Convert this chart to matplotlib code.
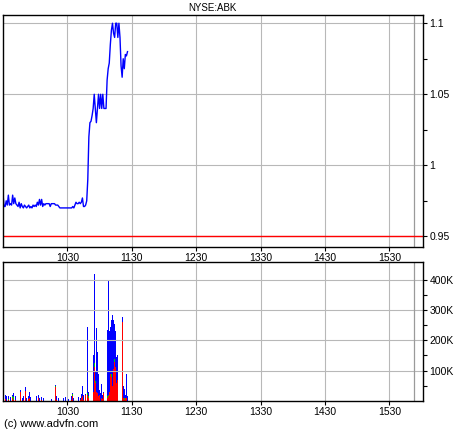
import numpy as np
import matplotlib
matplotlib.use("Agg")
import matplotlib.pyplot as plt
from matplotlib.ticker import FuncFormatter

plt.rcParams["font.family"] = ["Liberation Sans", "DejaVu Sans"]

# minutes after 09:30
price_min = list(range(0, 117))
price = [
    0.980, 0.971, 0.971, 0.975, 0.972, 0.979, 0.972, 0.973, 0.972, 0.979,
    0.973, 0.977, 0.973, 0.972, 0.971, 0.974, 0.970, 0.973, 0.971, 0.970,
    0.972, 0.971, 0.970, 0.971, 0.972, 0.970, 0.971, 0.970, 0.972, 0.971,
    0.972, 0.971, 0.974, 0.972, 0.976, 0.972, 0.976, 0.971, 0.973, 0.972,
    0.973, 0.973, 0.973, 0.973, 0.971, 0.973, 0.973, 0.973, 0.973, 0.972,
    0.972, 0.972, 0.971, 0.970, 0.970, 0.970, 0.970, 0.970, 0.970, 0.970,
    0.970, 0.970, 0.970, 0.970, 0.970, 0.971, 0.970, 0.972, 0.974, 0.973,
    0.973, 0.974, 0.973, 0.974, 0.977, 0.971, 0.971, 0.972, 0.975, 0.990,
    1.020, 1.030, 1.031, 1.035, 1.040, 1.050, 1.040, 1.030, 1.040, 1.050,
    1.040, 1.050, 1.040, 1.050, 1.040, 1.040, 1.040, 1.060, 1.068, 1.072,
    1.085, 1.095, 1.100, 1.093, 1.090, 1.100, 1.100, 1.090, 1.100, 1.090,
    1.070, 1.062, 1.075, 1.068, 1.078, 1.077, 1.080,
]
prev_close = 0.95

vol_min = [0, 1, 2, 3, 5, 7, 9, 10, 12, 14, 15, 16, 18, 19, 21, 22, 24, 25, 26,
           28, 31, 33, 34, 36, 38, 40, 42, 45, 49, 50, 52, 56, 58, 61, 64, 65,
           66, 68, 70, 72, 73, 74, 75, 77, 79, 80, 81, 82, 83, 84, 85, 86, 87,
           88, 89, 90, 91, 92, 93, 94, 95, 96, 97, 98, 99, 100, 101, 102, 103,
           104, 105, 106, 107, 108, 109, 110, 111, 112, 113, 114, 115, 116]
vol_total = [236, 40, 20, 15, 18, 12, 20, 25, 15, 40, 12, 35, 10, 15, 46, 10, 15,
             29, 12, 8, 15, 20, 10, 12, 10, 8, 10, 8, 54, 15, 10, 10, 13, 8, 15,
             28, 10, 8, 12, 10, 24, 51, 20, 22, 244, 30, 345, 240, 177, 150, 418,
             100, 241, 161, 90, 35, 25, 57, 20, 30, 25, 20, 233, 398, 232, 245,
             266, 283, 268, 255, 232, 145, 150, 60, 40, 30, 277, 50, 40, 20, 90, 15]
vol_red = [35, 10, 8, 0, 5, 0, 10, 5, 5, 0, 0, 30, 0, 5, 32, 0, 8, 10, 0, 0, 0,
           10, 0, 5, 0, 0, 0, 0, 45, 5, 0, 0, 0, 0, 5, 15, 0, 0, 0, 5, 10, 15, 5,
           20, 20, 10, 15, 40, 20, 30, 112, 60, 30, 25, 15, 20, 0, 10, 8, 25, 20,
           10, 10, 15, 30, 90, 79, 50, 107, 128, 112, 60, 68, 30, 20, 20, 260, 10,
           5, 10, 10, 0]
vol_green = [15, 5, 0, 0, 3, 0, 5, 8, 0, 0, 0, 0, 0, 0, 0, 0, 0, 0, 0, 0, 0, 0,
             0, 0, 0, 0, 0, 0, 5, 0, 0, 0, 0, 0, 0, 8, 0, 0, 0, 0, 0, 0, 0, 0, 5,
             5, 5, 10, 0, 0, 12, 5, 0, 0, 0, 0, 0, 0, 0, 0, 0, 0, 5, 5, 0, 0, 10,
             0, 0, 10, 0, 0, 0, 5, 0, 0, 0, 0, 5, 0, 0, 0]

hour_ticks = [60, 120, 180, 240, 300, 360]
hour_labels = ["1030", "1130", "1230", "1330", "1430", "1530"]

vm = np.array(vol_min)
vt = np.array(vol_total) * 1000.0
vr = np.array(vol_red) * 1000.0
vg = np.array(vol_green) * 1000.0
vb = np.clip(vt - vr - vg, 0, None)

fig = plt.figure(figsize=(4.6, 4.3), dpi=100)
ax1 = fig.add_axes([0.0065, 0.4256, 0.9124, 0.5402])
ax2 = fig.add_axes([0.0065, 0.0674, 0.9124, 0.3226])

grid_c = "#b8b8b8"
for ax in (ax1, ax2):
    ax.set_xlim(0, 391)
    ax.set_xticks(hour_ticks)
    ax.set_xticklabels(hour_labels)
    ax.yaxis.tick_right()
    ax.tick_params(axis="both", labelsize=7.5, length=3, width=0.8, pad=2)
    ax.tick_params(axis="x", pad=1.5)
    ax.tick_params(axis="y", which="minor", length=3, width=0.8)
    ax.grid(True, color=grid_c, linewidth=0.8)
    ax.axvline(383, color="#9a9a9a", linewidth=0.9)
    for s in ax.spines.values():
        s.set_linewidth(1.0)

ax1.plot(price_min, price, color="#0000ff", linewidth=1.0)
ax1.axhline(prev_close, color="#ff0000", linewidth=1.0)
ax1.set_ylim(0.9425, 1.106)
ax1.set_yticks([0.95, 1.0, 1.05, 1.1])
ax1.set_yticklabels(["0.95", "1", "1.05", "1.1"])
ax1.set_yticks([0.975, 1.025, 1.075], minor=True)
ax1.set_title("NYSE:ABK", fontsize=7, pad=3)

w = 0.75
ax2.bar(vm, vr, width=w, color="#ff0000", linewidth=0)
ax2.bar(vm, vg, width=w, bottom=vr, color="#00cc00", linewidth=0)
ax2.bar(vm, vb, width=w, bottom=vr + vg, color="#0000ff", linewidth=0)
ax2.set_ylim(0, 457000)
ax2.set_yticks([100000, 200000, 300000, 400000])
ax2.yaxis.set_major_formatter(FuncFormatter(lambda v, p: f"{int(v / 1000)}K"))
ax2.set_yticks([50000, 150000, 250000, 350000], minor=True)

fig.text(0.008, 0.013, "(c) www.advfn.com", fontsize=8, ha="left", va="center")

fig.savefig("out.png", dpi=100)
